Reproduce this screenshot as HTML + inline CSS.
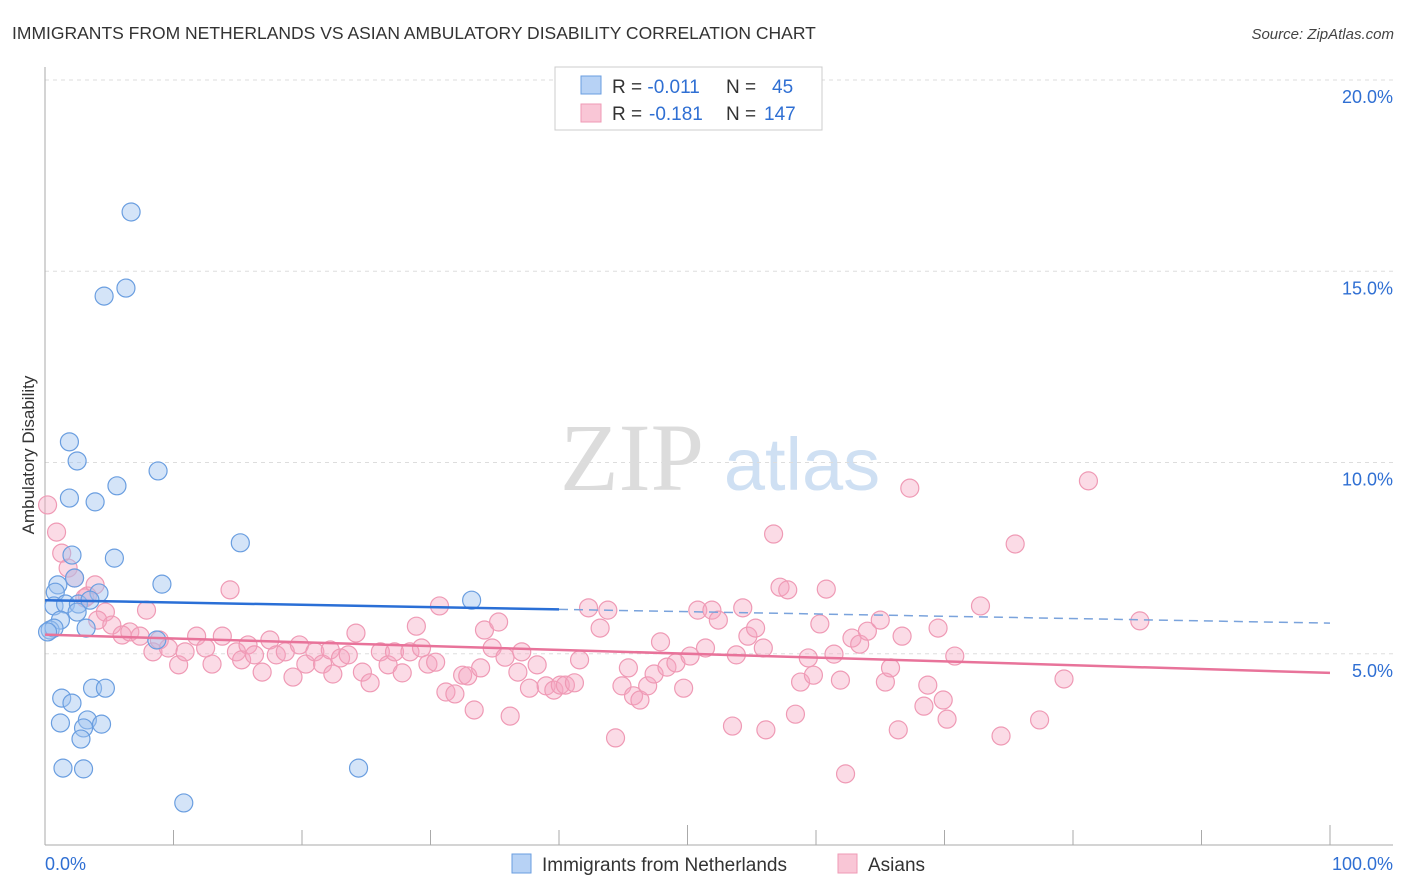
<!DOCTYPE html>
<html><head><meta charset="utf-8"><style>
body{margin:0;background:#fff;font-family:"Liberation Sans",sans-serif;}
svg{display:block}
</style></head><body>
<svg width="1406" height="892" viewBox="0 0 1406 892">
<text x="12" y="39" font-size="17.5" fill="#333">IMMIGRANTS FROM NETHERLANDS VS ASIAN AMBULATORY DISABILITY CORRELATION CHART</text>
<text x="1394" y="39" font-size="15" fill="#444" font-style="italic" text-anchor="end">Source: ZipAtlas.com</text>
<g>
<text x="632" y="490" font-size="96" fill="#dcdcdc" font-family="Liberation Serif,serif" text-anchor="middle">ZIP</text>
<text x="802" y="490" font-size="74" fill="#cfe0f3" text-anchor="middle">atlas</text>
</g>
<g id="grid"></g>
<g id="axes"></g>
<text transform="translate(34,455) rotate(-90)" font-size="17" fill="#333" text-anchor="middle">Ambulatory Disability</text>
<g id="pts"></g>
<g id="lines"></g>
<g>
<rect x="555" y="67" width="267" height="63" fill="#fff" stroke="#ccc"/>
<rect x="581" y="76" width="20" height="18" fill="#b7d2f5" stroke="#6a9ee0"/>
<rect x="581" y="104" width="20" height="18" fill="#f9c6d6" stroke="#ef9ab5"/>
<text x="612" y="93" font-size="19" fill="#333">R = <tspan fill="#2f6fd3">-0.011</tspan><tspan x="726">N = </tspan><tspan x="772" fill="#2f6fd3">45</tspan></text>
<text x="612" y="120" font-size="19" fill="#333">R = <tspan x="649" fill="#2f6fd3">-0.181</tspan><tspan x="726">N = </tspan><tspan x="764" fill="#2f6fd3">147</tspan></text>
</g>
<g>
<rect x="512" y="854" width="19" height="19" fill="#b7d2f5" stroke="#6a9ee0"/>
<text x="542" y="871" font-size="19" fill="#333">Immigrants from Netherlands</text>
<rect x="838" y="854" width="19" height="19" fill="#f9c6d6" stroke="#ef9ab5"/>
<text x="868" y="871" font-size="19" fill="#333">Asians</text>
</g>
</svg>
<script>
const blueX=[6.7,4.6,6.3,1.9,2.5,8.8,1.9,3.9,5.6,15.2,2.1,5.4,1.0,0.8,2.3,9.1,4.2,0.7,1.6,2.6,3.5,2.5,1.2,0.4,0.7,3.2,0.2,8.7,3.7,4.7,1.3,2.1,1.2,3.3,4.4,3.0,2.8,1.4,3.0,24.4,10.8,33.2];
const blueY=[16.55,14.35,14.56,10.54,10.04,9.78,9.07,8.97,9.39,7.9,7.58,7.5,6.8,6.61,6.98,6.82,6.59,6.25,6.3,6.3,6.4,6.09,5.88,5.62,5.67,5.67,5.57,5.36,4.1,4.1,3.84,3.71,3.19,3.27,3.16,3.06,2.77,2.01,1.99,2.01,1.1,6.4];
const pinkX=[0.2,0.9,1.3,1.8,2.3,3.3,3.9,4.7,3.1,4.1,5.2,6.0,6.6,7.4,7.9,8.4,8.9,9.6,10.4,10.9,11.8,12.5,13.0,13.8,14.4,14.9,15.3,15.8,16.3,16.9,17.5,18.0,18.7,19.3,19.8,20.3,21.0,21.6,22.2,22.4,23.0,23.6,24.2,24.7,25.3,26.1,26.7,27.2,27.8,28.4,28.9,29.3,29.8,30.4,30.7,31.2,31.9,32.5,32.9,33.4,33.9,34.2,34.8,35.3,35.8,36.2,36.8,37.1,37.7,38.3,39.0,39.6,40.1,40.5,41.2,41.6,42.3,43.2,43.8,44.4,44.9,45.4,45.8,46.3,46.9,47.4,47.9,48.4,49.1,49.7,50.2,50.8,51.4,51.9,52.4,53.5,53.8,54.3,54.7,55.3,55.9,56.1,56.7,57.2,57.8,58.4,58.8,59.4,59.8,60.3,60.8,61.4,61.9,62.3,62.8,63.4,64.0,65.0,65.4,65.8,66.4,66.7,67.3,68.4,68.7,69.5,69.9,70.2,70.8,72.8,74.4,75.5,77.4,79.3,81.2,85.2];
const pinkY=[8.89,8.18,7.63,7.24,6.98,6.51,6.80,6.09,6.46,5.88,5.75,5.49,5.57,5.46,6.14,5.05,5.36,5.15,4.71,5.05,5.46,5.15,4.73,5.46,6.67,5.05,4.84,5.23,4.97,4.52,5.36,4.97,5.05,4.39,5.23,4.73,5.05,4.73,5.10,4.47,4.89,4.97,5.54,4.52,4.24,5.05,4.71,5.05,4.50,5.05,5.72,5.15,4.73,4.78,6.25,4.00,3.95,4.44,4.42,3.53,4.63,5.62,5.15,5.83,4.91,3.37,4.52,5.05,4.10,4.71,4.16,4.05,4.18,4.18,4.24,4.84,6.20,5.67,6.14,2.80,4.16,4.63,3.90,3.79,4.16,4.47,5.31,4.65,4.76,4.10,4.94,6.14,5.15,6.14,5.88,3.11,4.97,6.20,5.46,5.67,5.15,3.01,8.13,6.74,6.67,3.42,4.26,4.89,4.44,5.78,6.69,4.99,4.31,1.86,5.41,5.25,5.59,5.88,4.26,4.63,3.01,5.46,9.33,3.63,4.18,5.67,3.79,3.29,4.94,6.25,2.85,7.87,3.27,4.34,9.52,5.86];
const yTicks=[5,10,15,20];
const yTickLabels=["5.0%","10.0%","15.0%","20.0%"];
const xTicks=[0,10,20,30,40,50,60,70,80,90,100];
const blueTrend=[6.4,5.8];   // value at x=0 and x=100
const pinkTrend=[5.5,4.5];
const sx=v=>45+v*12.85, sy=v=>845-v*38.25;
const NS="http://www.w3.org/2000/svg";
function mk(tag,attrs,parent){const e=document.createElementNS(NS,tag);for(const k in attrs)e.setAttribute(k,attrs[k]);parent.appendChild(e);return e;}
const grid=document.getElementById('grid'),axes=document.getElementById('axes'),pts=document.getElementById('pts'),lines=document.getElementById('lines');
yTicks.forEach((t,i)=>{
 const l=mk('line',{x1:45,x2:1393,y1:sy(t),y2:sy(t),stroke:'#ddd','stroke-dasharray':'4,4'},grid);
 
 
 const tx=mk('text',{x:1393,y:sy(t)+23,'font-size':18,fill:'#2f6fd3','text-anchor':'end'},axes);
 tx.textContent=yTickLabels[i];
 
 
});
const ya=mk('line',{x1:45,x2:45,y1:67,y2:845,stroke:'#aaa'},axes);


const xa=mk('line',{x1:45,x2:1393,y1:845,y2:845,stroke:'#aaa'},axes);


xTicks.forEach(t=>{
 const l=mk('line',{x1:sx(t),x2:sx(t),y1:845,y2:(t%50===0&&t>0)?825:830,stroke:'#aaa'},axes);
 
 
});
const xl0=mk('text',{x:45,y:870,'font-size':18,fill:'#2f6fd3'},axes);xl0.textContent='0.0%';


const xl1=mk('text',{x:1393,y:870,'font-size':18,fill:'#2f6fd3','text-anchor':'end'},axes);xl1.textContent='100.0%';


pinkX.forEach((x,i)=>{
 const c=mk('circle',{cx:sx(x),cy:sy(pinkY[i]),r:9,fill:'rgba(245,165,192,0.4)',stroke:'#ef9ab5','stroke-width':1.2},pts);
 
 
});
blueX.forEach((x,i)=>{
 const c=mk('circle',{cx:sx(x),cy:sy(blueY[i]),r:9,fill:'rgba(160,196,240,0.45)',stroke:'#6a9ee0','stroke-width':1.2},pts);
 
 
});
const bAt=x=>blueTrend[0]+(blueTrend[1]-blueTrend[0])*x/100;
const pAt=x=>pinkTrend[0]+(pinkTrend[1]-pinkTrend[0])*x/100;
const b1=mk('line',{x1:sx(0),y1:sy(bAt(0)),x2:sx(40),y2:sy(bAt(40)),stroke:'#2a6fd6','stroke-width':2.5},lines);


const b2=mk('line',{x1:sx(40),y1:sy(bAt(40)),x2:sx(100),y2:sy(bAt(100)),stroke:'#7aa3dc','stroke-width':1.5,'stroke-dasharray':'9,6'},lines);


const p1=mk('line',{x1:sx(0),y1:sy(pAt(0)),x2:sx(100),y2:sy(pAt(100)),stroke:'#e8739a','stroke-width':2.5},lines);


</script>
</body></html>
